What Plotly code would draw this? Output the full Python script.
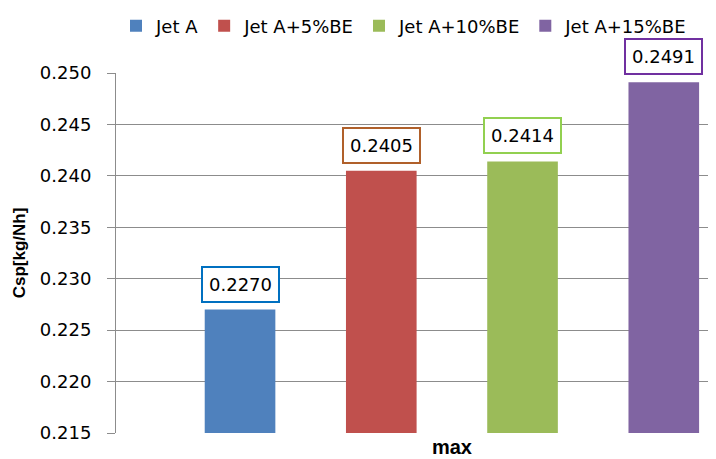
import plotly.graph_objects as go

categories = ["max"]
series_names = ["Jet A", "Jet A+5%BE", "Jet A+10%BE", "Jet A+15%BE"]
series_values = [0.2270, 0.2405, 0.2414, 0.2491]
label_texts = ["0.2270", "0.2405", "0.2414", "0.2491"]
bar_colors = ["#4F81BD", "#C0504D", "#9BBB59", "#8064A2"]
label_border_colors = ["#0070C0", "#B0602A", "#92D050", "#7030A0"]
y_ticks = [0.215, 0.220, 0.225, 0.230, 0.235, 0.240, 0.245, 0.250]

BARGAP = 0.159
BARGROUPGAP = 0.5

fig = go.Figure()
for name, val, col in zip(series_names, series_values, bar_colors):
    fig.add_trace(go.Bar(name=name, x=categories, y=[val], marker=dict(color=col, line=dict(width=0))))

n = len(series_names)
slot = (1 - BARGAP) / n
for i, (val, txt, bc) in enumerate(zip(series_values, label_texts, label_border_colors)):
    fig.add_annotation(
        x=(i - (n - 1) / 2) * slot, y=val, xref="x", yref="y",
        text=txt, showarrow=False, yanchor="bottom", yshift=7,
        font=dict(family="DejaVu Sans", size=18, color="#000000"),
        bordercolor=bc, borderwidth=2, borderpad=6, bgcolor="#FFFFFF",
    )

# page body has an 8px margin; margins below compensate for it
fig.update_layout(
    width=716, height=459,
    margin=dict(l=108, r=0, t=65, b=34, autoexpand=False),
    paper_bgcolor="#FFFFFF", plot_bgcolor="#FFFFFF",
    barmode="group", bargap=BARGAP, bargroupgap=BARGROUPGAP,
    font=dict(family="DejaVu Sans", size=18, color="#000000"),
    showlegend=True,
    legend=dict(orientation="h", x=0, xanchor="left", y=1 + 47 / 360, yanchor="middle",
                font=dict(family="DejaVu Sans", size=18, color="#000000"),
                bgcolor="rgba(0,0,0,0)"),
    xaxis=dict(type="category", range=[-0.5, 0.405], tickmode="array", tickvals=categories,
               ticktext=["<b>max</b>"], tickfont=dict(family="Liberation Sans", size=20, color="#000000"),
               showgrid=False, showline=False, ticks="", zeroline=False, automargin=False),
    yaxis=dict(range=[0.215, 0.250], tickmode="array", tickvals=y_ticks,
               ticktext=[f"{v:.3f}" for v in y_ticks],
               tickfont=dict(family="DejaVu Sans", size=18, color="#000000"),
               showgrid=True, gridcolor="#8C8C8C", gridwidth=1,
               showline=True, linecolor="#8C8C8C", linewidth=1,
               ticks="outside", ticklen=8, tickcolor="#8C8C8C", ticklabelstandoff=12,
               zeroline=False, automargin=False,
               title=dict(text="<b>Csp[kg/Nh]</b>", font=dict(family="Liberation Sans", size=17, color="#000000"),
                          standoff=9)),
)

fig.write_html("out.html")
